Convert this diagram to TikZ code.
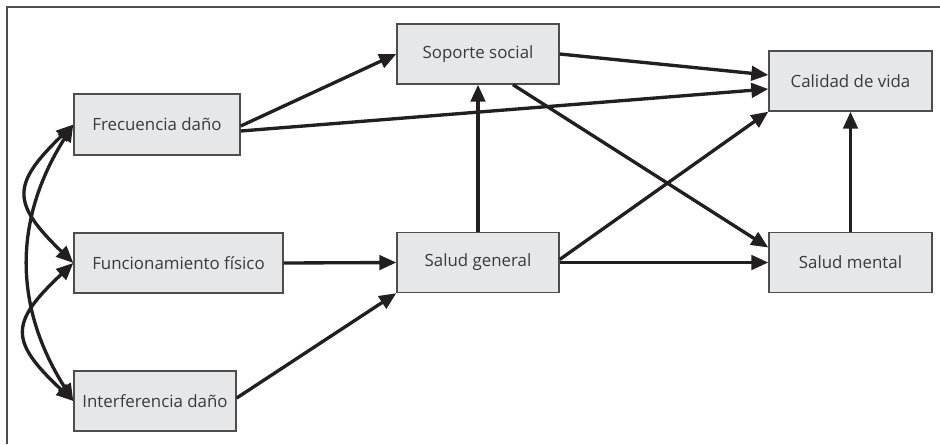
\documentclass[tikz,border=0pt]{standalone}
\usepackage{fontspec}
\setmainfont{Open Sans}
\usetikzlibrary{calc,arrows.meta}
\definecolor{boxFill}{HTML}{E6E7E8}
\definecolor{boxLine}{HTML}{4D4D4D}
\definecolor{arrInk}{HTML}{231F20}
\definecolor{txtGray}{HTML}{3A3A3A}

\begin{document}
\begin{tikzpicture}[
  x=0.02cm, y=-0.02cm,
  var/.style={
    rectangle, draw=boxLine, fill=boxFill, line width=0.8pt,
    minimum width=3.24cm, minimum height=1.2cm,
    font=\fontsize{9.6}{11}\selectfont, text=txtGray, inner sep=0pt
  },
  arr/.style={-{Triangle[length=0.34cm,width=0.29cm]}, arrInk, line width=1.9pt},
  cov/.style={{Triangle[length=0.34cm,width=0.29cm]}-{Triangle[length=0.34cm,width=0.29cm]},
    arrInk, line width=1.9pt}
]

\useasboundingbox (0,0) rectangle (940,444);

% Frame
\draw[boxLine, line width=1.1pt] (7,444) -- (7,7) -- (940,7);

% Exogenous variables
\node[var, minimum width=3.32cm, minimum height=1.22cm] (frec) at (157,124.5) {Frecuencia daño};
\node[var, minimum width=4.18cm] (func) at (178.5,263) {Funcionamiento físico};
\node[var] (interf) at (155,401) {Interferencia daño};

% Mediators
\node[var] (soporte) at (478,54) {Soporte social};
\node[var] (salgen) at (478,262.5) {Salud general};

% Outcomes
\node[var, minimum width=3.26cm] (calidad) at (850.5,81) {Calidad de vida};
\node[var, minimum width=3.26cm] (salment) at (850.5,262.5) {Salud mental};

% Covariances
\draw[cov] (frec.west) .. controls +(-62,60) and +(-62,-60) .. (func.west);
\draw[cov] (frec.west) .. controls +(-60,95) and +(-60,-95) .. (interf.west);
\draw[cov] (func.west) .. controls +(-64,60) and +(-64,-60) .. (interf.west);

% Paths
\draw[arr] ($(frec.east)+(0,1.5)$) -- (soporte.west);
\draw[arr] ($(frec.east)+(0,6.5)$) -- ($(calidad.west)+(0,8)$);
\draw[arr] (soporte.east) -- ($(calidad.west)+(0,-6)$);
\draw[arr] ($(soporte.south)+(35,0)$) -- ($(salment.west)+(0,-15)$);
\draw[arr] (salgen.north) -- (soporte.south);
\draw[arr] (salgen.east) -- (salment.west);
\draw[arr] ($(salgen.east)+(0,-3)$) -- (calidad.south west);
\draw[arr] (salment.north) -- (calidad.south);
\draw[arr] (func.east) -- (salgen.west);
\draw[arr] ($(interf.east)+(0,-3)$) -- (salgen.south west);

\end{tikzpicture}
\end{document}
